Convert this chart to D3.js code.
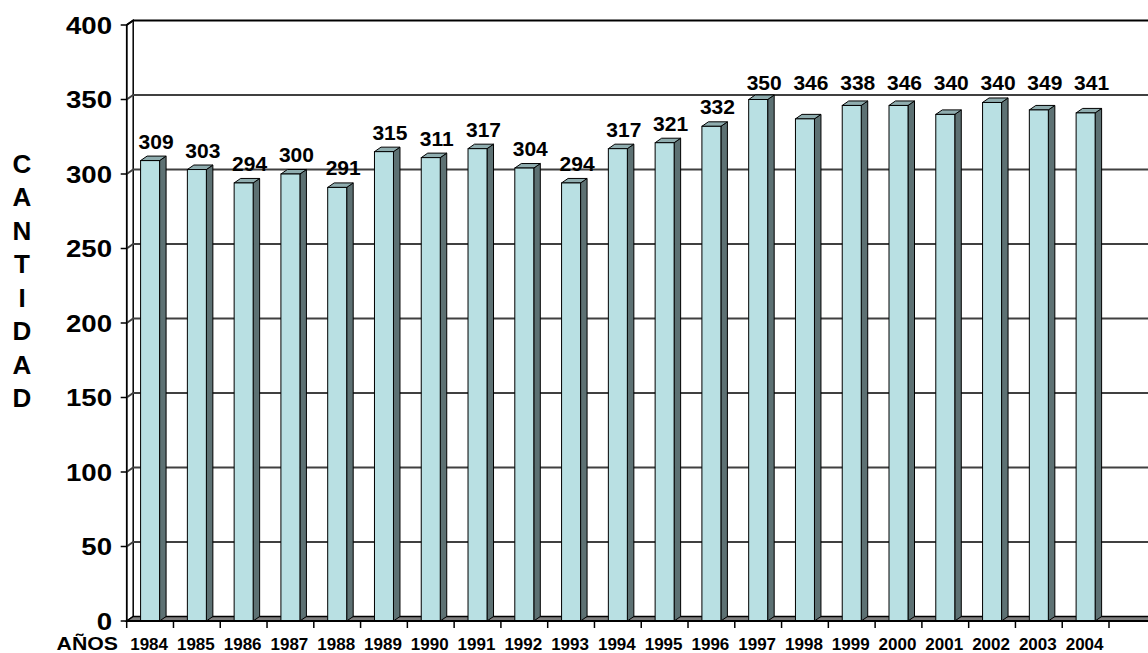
<!DOCTYPE html>
<html>
<head>
<meta charset="utf-8">
<script src="https://cdn.jsdelivr.net/npm/d3@7"></script>
<style>
  body { margin: 0; background: #fff; }
  svg { display: block; font-family: "Liberation Sans", Arial, sans-serif; font-weight: bold; }
</style>
</head>
<body>
<div id="container"></div>
<script>
const years = ['1984', '1985', '1986', '1987', '1988', '1989', '1990', '1991', '1992', '1993', '1994',
  '1995', '1996', '1997', '1998', '1999', '2000', '2001', '2002', '2003', '2004']
// bar heights as drawn
const values = [309, 303, 294, 300, 291, 315, 311, 317, 304, 294, 317,
  321, 332, 350, 337, 346, 346, 340, 348, 343, 341]
// data labels as printed on the chart
const valueLabels = ['309', '303', '294', '300', '291', '315', '311', '317', '304', '294', '317',
  '321', '332', '350', '346', '338', '346', '340', '340', '349', '341']
const yTicks = [0, 50, 100, 150, 200, 250, 300, 350, 400]
const yTitle = 'CANTIDAD'
const xTitle = 'AÑOS'

const w = 1148
const h = 653
const depth = { dx: 6.5, dy: 4.5 }

const data = years.map((yr, i) => ({ year: yr, value: values[i], label: valueLabels[i] }))

//SCALES
const x = d3.scaleBand()
  .domain(years)
  .range([126.7, 1109])
  .padding(0)

const y = d3.scaleLinear()
  .domain([0, 400])
  .range([621, 25])

const bw = x.bandwidth()
const barW = 19
const x0 = x.range()[0]
const y0 = y(0)

const svg = d3.select('#container')
  .append('svg')
  .attr('width', w)
  .attr('height', h)

//WALLS
// back wall
svg.append('rect')
  .attr('x', x0 + depth.dx)
  .attr('y', y(400) - depth.dy)
  .attr('width', w - x0 - depth.dx + 5)
  .attr('height', y0 - y(400))
  .attr('fill', '#fff')

// side wall
svg.append('path')
  .attr('d', `M${x0},${y0}L${x0},${y(400)}L${x0 + depth.dx},${y(400) - depth.dy}L${x0 + depth.dx},${y0 - depth.dy}Z`)
  .attr('fill', '#fff')
  .attr('stroke', '#000')
  .attr('stroke-width', 1.5)

// gridlines (back wall + side wall)
const grid = svg.append('g')
grid.selectAll('path')
  .data(yTicks.filter(d => d > 0 && d < 400))
  .enter()
  .append('path')
  .attr('d', d => `M${x0},${y(d)}L${x0 + depth.dx},${y(d) - depth.dy}L${w + 5},${y(d) - depth.dy}`)
  .attr('fill', 'none')
  .attr('stroke', '#404040')
  .attr('stroke-width', 2)

// top edge of back wall
svg.append('path')
  .attr('d', `M${x0},${y(400)}L${x0 + depth.dx},${y(400) - depth.dy}L${w + 5},${y(400) - depth.dy}`)
  .attr('fill', 'none')
  .attr('stroke', '#000')
  .attr('stroke-width', 2)

// floor
svg.append('path')
  .attr('d', `M${x0},${y0}L${x0 + depth.dx},${y0 - depth.dy}L${w + 5},${y0 - depth.dy}L${w + 5},${y0}Z`)
  .attr('fill', '#808080')
  .attr('stroke', '#000')
  .attr('stroke-width', 1.5)

//BARS
const bars = svg.selectAll('g.bar')
  .data(data)
  .enter()
  .append('g')
  .attr('class', 'bar')

const bx = d => x(d.year) + bw / 2 - barW / 2

bars.append('path') // side
  .attr('d', d => {
    const xr = bx(d) + barW
    return `M${xr},${y0}L${xr},${y(d.value)}L${xr + depth.dx},${y(d.value) - depth.dy}L${xr + depth.dx},${y0 - depth.dy}Z`
  })
  .attr('fill', '#5d7173')
  .attr('stroke', '#000')
  .attr('stroke-width', 1)

bars.append('path') // top
  .attr('d', d => {
    const xl = bx(d)
    const yt = y(d.value)
    return `M${xl},${yt}L${xl + depth.dx},${yt - depth.dy}L${xl + barW + depth.dx},${yt - depth.dy}L${xl + barW},${yt}Z`
  })
  .attr('fill', '#8fadaf')
  .attr('stroke', '#000')
  .attr('stroke-width', 1)

bars.append('rect') // front
  .attr('x', bx)
  .attr('y', d => y(d.value))
  .attr('width', barW)
  .attr('height', d => y0 - y(d.value))
  .attr('fill', '#b9e0e3')
  .attr('stroke', '#000')
  .attr('stroke-width', 1)

//AXES
// y axis line + ticks
svg.append('line')
  .attr('x1', x0).attr('x2', x0)
  .attr('y1', y(400)).attr('y2', y0)
  .attr('stroke', '#000')
  .attr('stroke-width', 1.5)

svg.append('g')
  .selectAll('line')
  .data(yTicks)
  .enter()
  .append('line')
  .attr('x1', x0 - 6).attr('x2', x0)
  .attr('y1', d => y(d)).attr('y2', d => y(d))
  .attr('stroke', '#000')
  .attr('stroke-width', 1.5)

svg.append('g')
  .selectAll('text')
  .data(yTicks)
  .enter()
  .append('text')
  .attr('transform', d => `translate(112,${y(d) + 8.5}) scale(1.15,1)`)
  .attr('text-anchor', 'end')
  .attr('font-size', 24)
  .text(d => d)

// x axis line + ticks
svg.append('line')
  .attr('x1', x0).attr('x2', w + 5)
  .attr('y1', y0).attr('y2', y0)
  .attr('stroke', '#000')
  .attr('stroke-width', 2)

const xTickPos = years.map(d => x(d)).concat([x.range()[1]])
svg.append('g')
  .selectAll('line')
  .data(xTickPos)
  .enter()
  .append('line')
  .attr('x1', d => d).attr('x2', d => d)
  .attr('y1', y0).attr('y2', y0 + 7)
  .attr('stroke', '#000')
  .attr('stroke-width', 1.5)

svg.append('g')
  .selectAll('text')
  .data(years)
  .enter()
  .append('text')
  .attr('x', d => x(d) + bw / 2 - 1)
  .attr('y', 650)
  .attr('text-anchor', 'middle')
  .attr('font-size', 17)
  .text(d => d)

//LABELS
const labelRowY = y(350) - 10
svg.append('g')
  .selectAll('text')
  .data(data)
  .enter()
  .append('text')
  .attr('x', d => x(d.year) + bw / 2 + 6)
  .attr('y', d => d.value >= 335 ? labelRowY : y(d.value) - 12)
  .attr('text-anchor', 'middle')
  .attr('font-size', 21)
  .text(d => d.label)

//TITLES
svg.append('text')
  .attr('transform', 'translate(118,650) scale(1.12,1)')
  .attr('text-anchor', 'end')
  .attr('font-size', 19)
  .text(xTitle)

svg.append('g')
  .selectAll('text')
  .data(yTitle.split(''))
  .enter()
  .append('text')
  .attr('x', 22)
  .attr('y', (d, i) => 172.5 + i * 33.5)
  .attr('text-anchor', 'middle')
  .attr('font-size', 26)
  .text(d => d)
</script>
</body>
</html>
